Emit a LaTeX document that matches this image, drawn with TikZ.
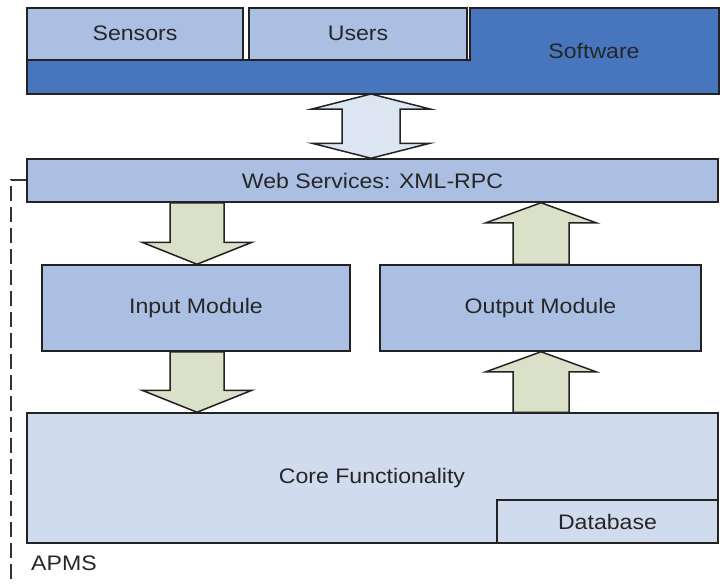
\documentclass[tikz,border=0pt]{standalone}
\usepackage{fontspec}
\setmainfont[FakeStretch=1.1]{Liberation Sans}
\usetikzlibrary{calc}
\definecolor{lightbox}{RGB}{170,191,226}
\definecolor{darkbox}{RGB}{72,118,190}
\definecolor{corebox}{RGB}{208,219,238}
\definecolor{dblarrow}{RGB}{220,229,242}
\definecolor{garrowfill}{RGB}{219,224,200}
\definecolor{edge}{RGB}{35,35,35}
\begin{document}
\begin{tikzpicture}[x=1pt,y=-1pt,
  every node/.style={font=\fontsize{21}{25}\selectfont, text=black!85},
  boxstyle/.style={draw=edge, line width=1.5pt},
  lbox/.style={boxstyle, fill=lightbox},
  txt/.style={inner sep=0pt},
  garrow/.style={draw=edge, line width=1.5pt, fill=garrowfill, line join=miter},
  barrow/.style={draw=edge, line width=1.5pt, fill=dblarrow, line join=miter},
  apmsline/.style={draw=black!80, line width=2pt, dash pattern=on 15pt off 6pt}]
\useasboundingbox (0,0) rectangle (721,584);
\clip (0,0) rectangle (721,584);
\fill[white] (0,0) rectangle (721,584);

% APMS dashed boundary
\draw[apmsline] (11,600) -- (11,180) -- (740,180);

% top block
\draw[boxstyle, fill=darkbox] (27,60) -- (470,60) -- (470,8) -- (719,8) -- (719,94) -- (27,94) -- cycle;
\draw[lbox] (27,8) rectangle (243,60);
\draw[lbox] (249,8) rectangle (467,60);
\node[txt] (sensors) at (135,33) {Sensors};
\node[txt] (users) at (358,33) {Users};
\node[txt] (software) at (594,51) {Software};

% web services
\node[lbox, minimum width=691pt, minimum height=43pt, inner sep=0pt] (web) at (372.5,180.5) {Web Services: XML-RPC};

% modules
\node[lbox, minimum width=308pt, minimum height=86pt, inner sep=0pt] (in) at (196,308) {Input Module};
\node[lbox, minimum width=321pt, minimum height=86pt, inner sep=0pt] (out) at (540.5,308) {Output Module};

% core
\node[boxstyle, fill=corebox, minimum width=691pt, minimum height=130pt, inner sep=0pt] (core) at (372.5,478) {};
\node[txt] (corelbl) at (372,478) {Core Functionality};
\node[boxstyle, fill=corebox, minimum width=221pt, minimum height=43pt, inner sep=0pt] (db) at (607.5,521.5) {Database};

\node[txt, anchor=west] (apms) at (31,563) {APMS};

% double arrow top <-> web
\coordinate (dA) at (371,94);
\coordinate (dB) at (371,0 |- web.north);
\draw[barrow] (dA) -- ($(dA)+(59,15)$) -- ($(dA)+(29,15)$) -- ($(dB)+(29,-15)$) -- ($(dB)+(59,-15)$) -- (dB)
  -- ($(dB)+(-59,-15)$) -- ($(dB)+(-29,-15)$) -- ($(dA)+(-29,15)$) -- ($(dA)+(-59,15)$) -- cycle;

% input arrows (down)
\coordinate (i1a) at (197,0 |- web.south);
\coordinate (i1b) at (197,0 |- in.north);
\draw[garrow] ($(i1a)+(-27,0)$) -- ($(i1b)+(-27,-22)$) -- ($(i1b)+(-55,-22)$) -- (i1b)
  -- ($(i1b)+(55,-22)$) -- ($(i1b)+(27,-22)$) -- ($(i1a)+(27,0)$) -- cycle;
\coordinate (i2a) at (197,0 |- in.south);
\coordinate (i2b) at (197,0 |- core.north);
\draw[garrow] ($(i2a)+(-27,0)$) -- ($(i2b)+(-27,-22)$) -- ($(i2b)+(-55,-22)$) -- (i2b)
  -- ($(i2b)+(55,-22)$) -- ($(i2b)+(27,-22)$) -- ($(i2a)+(27,0)$) -- cycle;

% output arrows (up)
\coordinate (o1a) at (541,0 |- out.north);
\coordinate (o1b) at (541,0 |- web.south);
\draw[garrow] ($(o1a)+(-28,0)$) -- ($(o1b)+(-28,20)$) -- ($(o1b)+(-55,20)$) -- (o1b)
  -- ($(o1b)+(55,20)$) -- ($(o1b)+(28,20)$) -- ($(o1a)+(28,0)$) -- cycle;
\coordinate (o2a) at (541,0 |- core.north);
\coordinate (o2b) at (541,0 |- out.south);
\draw[garrow] ($(o2a)+(-28,0)$) -- ($(o2b)+(-28,20)$) -- ($(o2b)+(-55,20)$) -- (o2b)
  -- ($(o2b)+(55,20)$) -- ($(o2b)+(28,20)$) -- ($(o2a)+(28,0)$) -- cycle;
\end{tikzpicture}
\end{document}
